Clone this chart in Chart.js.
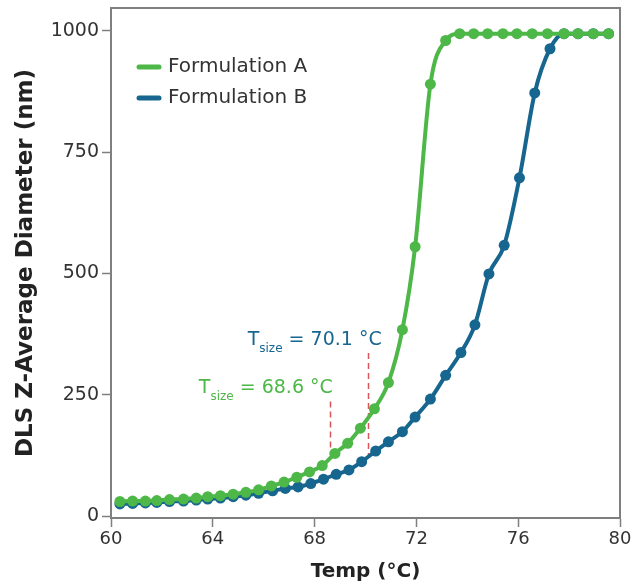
<!DOCTYPE html>
<html><head><meta charset="utf-8">
<script src="https://cdn.jsdelivr.net/npm/chart.js@4.4.1/dist/chart.umd.min.js"></script>
<style>html,body{margin:0;padding:0;background:#fff;}</style>
</head><body>
<canvas id="c" width="636" height="586"></canvas>
<script>
// ---- data ----
const seriesNames = ['Formulation A', 'Formulation B'];
const tempsA = [60.35,60.85,61.35,61.8,62.3,62.85,63.35,63.8,64.3,64.8,65.3,65.8,66.3,66.8,67.3,67.8,68.3,68.8,69.3,69.8,70.35,70.9,71.45,71.95,72.55,73.15,73.7,74.25,74.8,75.4,75.95,76.55,77.15,77.8,78.35,78.95,79.55];
const sizeA  = [30,31,31,32,34,35,37,40,42,45,49,54,62,70,80,91,104,129,150,181,221,275,384,555,890,980,994,994,994,994,994,994,994,994,994,994,994];
const tempsB = [60.35,60.85,61.35,61.8,62.3,62.85,63.35,63.8,64.3,64.8,65.3,65.8,66.35,66.85,67.35,67.85,68.35,68.85,69.35,69.85,70.4,70.9,71.45,71.95,72.55,73.15,73.75,74.3,74.85,75.45,76.05,76.65,77.25,77.8,78.35,78.95,79.55];
const sizeB  = [25,26,27,28,30,31,33,35,37,40,43,47,52,57,60,67,76,86,95,112,134,153,174,204,241,290,337,394,499,558,697,872,963,994,994,994,994];
const xTicks = [60,64,68,72,76,80];
const yTicks = [0,250,500,750,1000];
const tsizeTemps = [68.6, 70.1];
const tsizeText  = [' = 68.6 °C', ' = 70.1 °C'];

const GREEN = '#4db748', BLUE = '#17668f', GRAY = '#7f7f7f', RED = '#d9575a';
const FONT = 'DejaVu Sans';

const extras = {
  id: 'extras',
  beforeDatasetsDraw(chart) {
    const {ctx, chartArea: a, scales: {x, y}} = chart;
    ctx.save();
    ctx.strokeStyle = GRAY; ctx.lineWidth = 2;
    ctx.beginPath();
    ctx.moveTo(a.left, a.top); ctx.lineTo(a.right, a.top); ctx.lineTo(a.right, a.bottom);
    ctx.stroke();
    // dashed Tsize markers
    ctx.strokeStyle = RED; ctx.lineWidth = 1.5; ctx.setLineDash([6,4]);
    const spans = [[125,236],[122,336]];
    tsizeTemps.forEach((t,i) => {
      const px = Math.round(x.getPixelForValue(t)) + 0.5;
      ctx.beginPath();
      ctx.moveTo(px, y.getPixelForValue(spans[i][1]));
      ctx.lineTo(px, y.getPixelForValue(spans[i][0]));
      ctx.stroke();
    });
    ctx.restore();
  },
  afterDraw(chart) {
    const {ctx, chartArea: a, scales: {x, y}} = chart;
    ctx.save();
    // annotations
    const anchors = [[63.45, 254, GREEN], [65.37, 352.6, BLUE]];
    anchors.forEach(([tx, ty, col], i) => {
      let px = x.getPixelForValue(tx), py = y.getPixelForValue(ty);
      ctx.fillStyle = col; ctx.textBaseline = 'alphabetic'; ctx.textAlign = 'left';
      ctx.font = '19px "' + FONT + '"';
      ctx.fillText('T', px, py);
      px += ctx.measureText('T').width;
      ctx.font = '12px "' + FONT + '"';
      ctx.fillText('size', px, py + 7);
      px += ctx.measureText('size').width;
      ctx.font = '19px "' + FONT + '"';
      ctx.fillText(tsizeText[i], px, py);
    });
    // legend
    const cols = [GREEN, BLUE];
    seriesNames.forEach((name, i) => {
      const ly = a.top + 59 + i * 31;
      ctx.strokeStyle = cols[i]; ctx.lineWidth = 5; ctx.lineCap = 'round';
      ctx.beginPath(); ctx.moveTo(a.left + 28, ly); ctx.lineTo(a.left + 48, ly); ctx.stroke();
      ctx.fillStyle = '#333'; ctx.font = '20px "' + FONT + '"';
      ctx.textBaseline = 'middle'; ctx.textAlign = 'left';
      ctx.fillText(name, a.left + 57, ly);
    });
    ctx.restore();
  }
};

const mk = (temps, vals) => temps.map((t, i) => ({x: t, y: vals[i]}));

new Chart(document.getElementById('c'), {
  type: 'line',
  data: {
    datasets: [
      {label: seriesNames[0], data: mk(tempsA, sizeA), borderColor: GREEN, backgroundColor: GREEN,
       borderWidth: 4, pointRadius: 5.5, pointBorderWidth: 0, cubicInterpolationMode: 'monotone'},
      {label: seriesNames[1], data: mk(tempsB, sizeB), borderColor: BLUE, backgroundColor: BLUE,
       borderWidth: 4, pointRadius: 5.5, pointBorderWidth: 0, cubicInterpolationMode: 'monotone'}
    ]
  },
  options: {
    responsive: false, animation: false, devicePixelRatio: 1,
    layout: {padding: {top: 8, right: 16, left: 0, bottom: 0}},
    plugins: {legend: {display: false}, tooltip: {enabled: false}},
    scales: {
      x: {
        type: 'linear', min: 60, max: 80,
        afterBuildTicks: s => { s.ticks = xTicks.map(v => ({value: v})); },
        afterFit: s => { s.height = 68; s.paddingLeft = 0; s.paddingRight = 0; },
        border: {color: GRAY, width: 2},
        grid: {drawOnChartArea: false, tickLength: 9, tickColor: GRAY, tickWidth: 1.5},
        ticks: {color: '#333', font: {family: FONT, size: 18}, padding: 2, maxRotation: 0,
                callback: v => String(v)},
        title: {display: true, text: 'Temp (°C)', color: '#222',
                font: {family: FONT, size: 20, weight: 'bold', lineHeight: 1.2}, padding: {top: 0, bottom: 2}}
      },
      y: {
        type: 'linear', min: -4, max: 1047,
        afterBuildTicks: s => { s.ticks = yTicks.map(v => ({value: v})); },
        afterFit: s => { s.width = 111; s.paddingTop = 0; s.paddingBottom = 0; },
        border: {color: GRAY, width: 2},
        grid: {drawOnChartArea: false, tickLength: 9, tickColor: GRAY, tickWidth: 1.5},
        ticks: {color: '#333', font: {family: FONT, size: 19}, padding: 3, callback: v => String(v)},
        title: {display: true, text: 'DLS Z-Average Diameter (nm)', color: '#222',
                font: {family: FONT, size: 23, weight: 'bold', lineHeight: 1.2}, padding: {top: 12, bottom: 0}}
      }
    }
  },
  plugins: [extras]
});
</script>
</body></html>
